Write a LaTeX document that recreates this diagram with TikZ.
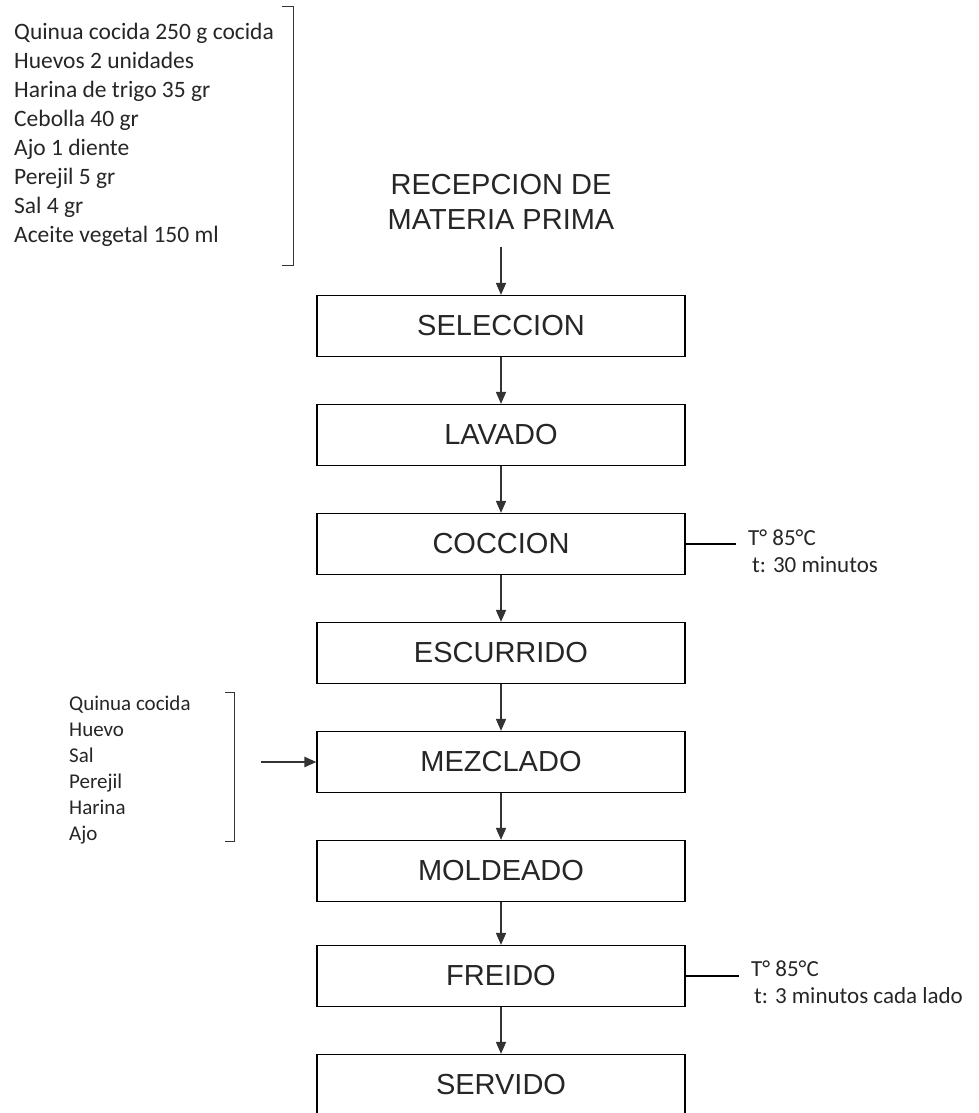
\documentclass[tikz,border=0pt]{standalone}
\usepackage{fontspec}
\setmainfont{Liberation Sans}
\newfontfamily\calibri{Carlito}
\usetikzlibrary{arrows.meta}
\usetikzlibrary{positioning}
\tikzstyle{int}=[draw, line width=1.2pt, fill=white, minimum width=368pt, minimum height=61pt, text=black!85, font={\fontsize{29}{35}\selectfont}]
\tikzstyle{note}=[align=left, anchor=west, inner xsep=12pt, inner ysep=0pt, text=black!85, font={\calibri\fontsize{23}{27}\selectfont}]
\tikzstyle{list}=[align=left, anchor=west, inner sep=0pt, text=black!85]
\tikzstyle{brk}=[line width=1pt, black!80]

\begin{document}
\begin{tikzpicture}[x=1pt,y=-1pt,node distance=109pt,>={Triangle[width=10pt,length=12pt]}]
  \useasboundingbox (0,0) rectangle (978,1113);

    \node [align=center, inner sep=0pt, text=black!85, font={\fontsize{29}{35}\selectfont}] (rec) at (501,202) {RECEPCION DE\\MATERIA PRIMA};
    \node [int] (sel) at (501,326) {SELECCION};
    \node [int] (lav) [below of=sel] {LAVADO};
    \node [int] (coc) [below of=lav] {COCCION};
    \node [int] (esc) [below of=coc] {ESCURRIDO};
    \node [int] (mez) [below of=esc] {MEZCLADO};
    \node [int] (mol) [below of=mez] {MOLDEADO};
    \node [int] (fre) [below of=mol, node distance=105pt] {FREIDO};
    \node [int] (ser) [below of=fre] {SERVIDO};

    \node [list, font={\calibri\fontsize{23.5}{29.1}\selectfont}] (ingr) at (14,135) {Quinua cocida 250 g cocida\\Huevos 2 unidades\\Harina de trigo 35 gr\\Cebolla 40 gr\\Ajo 1 diente\\Perejil 5 gr\\Sal 4 gr\\Aceite vegetal 150 ml};
    \node [list, font={\calibri\fontsize{21}{26}\selectfont}] (mix) at (69,770) {Quinua cocida\\Huevo\\Sal\\Perejil\\Harina\\Ajo};
    \node [note] (cocnote) at (736,551) {T° 85°C\\\hspace{4pt}t: 30 minutos};
    \node [note] (frenote) at (739,982) {T° 85°C\\\hspace{3pt}t: 3 minutos cada lado};
    \coordinate (mixin) at ([xshift=-55pt]mez.west);

    \path[->, line width=1.6pt, black!80] (rec) edge[shorten <=17pt] (sel);
    \path[->, line width=1.6pt, black!80] (sel) edge (lav);
    \path[->, line width=1.6pt, black!80] (lav) edge (coc);
    \path[->, line width=1.6pt, black!80] (coc) edge (esc);
    \path[->, line width=1.6pt, black!80] (esc) edge (mez);
    \path[->, line width=1.6pt, black!80] (mez) edge (mol);
    \path[->, line width=1.6pt, black!80] (mol) edge (fre);
    \path[->, line width=1.6pt, black!80] (fre) edge (ser);
    \draw[->, line width=2.4pt, black!80] (mixin) -- (mez);

    \draw[line width=1.2pt] (coc.east) -- (coc.east -| cocnote.west);
    \draw[line width=1.2pt] (fre.east) -- (fre.east -| frenote.west);

    % brackets round the ingredient lists
    \draw[brk] (282,7) -- (293,7) -- (293,265) -- (282,265);
    \draw[brk] (225,692) -- (234,692) -- (234,841) -- (225,841);
\end{tikzpicture}
\end{document}
